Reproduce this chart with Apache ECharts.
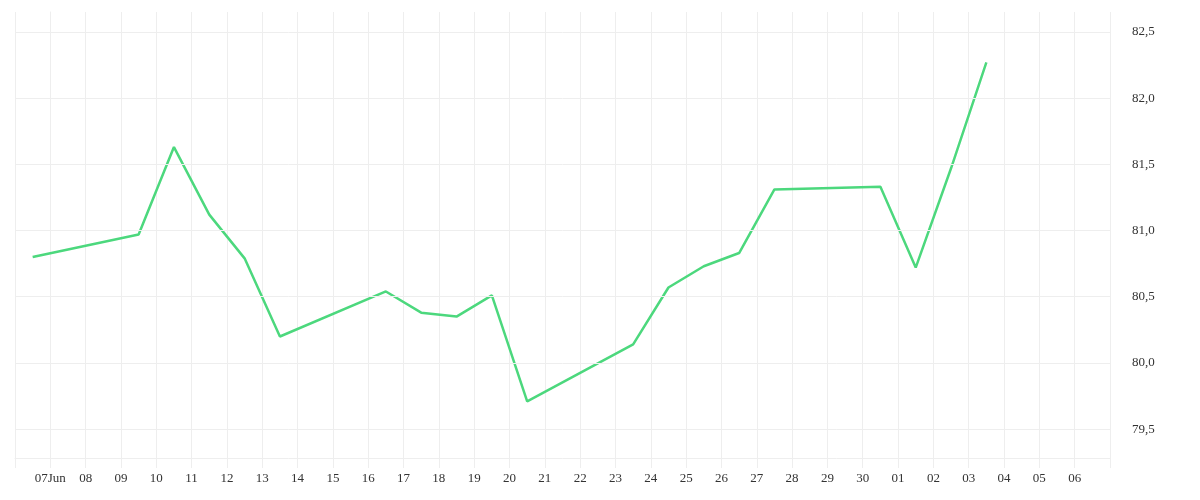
<!DOCTYPE html><html><head><meta charset="utf-8">
<script src="https://cdn.jsdelivr.net/npm/echarts@6/dist/echarts.min.js"></script>
<style>html,body{margin:0;padding:0;background:#fff}#c{width:1200px;height:500px}</style></head>
<body><div id="c"></div><script>
const dates = ["2024-06-06T12:00","2024-06-09T12:00","2024-06-10T12:00","2024-06-11T12:00","2024-06-12T12:00","2024-06-13T12:00","2024-06-16T12:00","2024-06-17T12:00","2024-06-18T12:00","2024-06-19T12:00","2024-06-20T12:00","2024-06-23T12:00","2024-06-24T12:00","2024-06-25T12:00","2024-06-26T12:00","2024-06-27T12:00","2024-06-30T12:00","2024-07-01T12:00","2024-07-02T12:00","2024-07-03T12:00"];
const values = [80.80,80.97,81.63,81.12,80.79,80.20,80.54,80.38,80.35,80.51,79.71,80.14,80.57,80.73,80.83,81.31,81.33,80.72,81.47,82.27];
const tickLabels = ["07Jun","08","09","10","11","12","13","14","15","16","17","18","19","20","21","22","23","24","25","26","27","28","29","30","01","02","03","04","05","06"];
const yTicks = [79.5,80.0,80.5,81.0,81.5,82.0,82.5];
const base = Date.UTC(2024,5,7);
const toDay = s => (Date.parse(s+"Z") - base) / 86400000;
const pts = dates.map((d,i)=>[toDay(d), values[i]]);
const font = "'Liberation Serif', serif";
const chart = echarts.init(document.getElementById('c'));
chart.setOption({
  animation:false,
  grid:[{left:15,right:90,top:12,bottom:37.7},{left:15,right:90,top:12,bottom:42}],
  xAxis:[
    {gridIndex:0,type:'value',min:-1,max:30,show:false,splitLine:{show:false}},
    {gridIndex:1,type:'value',min:-1,max:30,interval:1,
     axisLine:{lineStyle:{color:'#eeeeee'}},axisTick:{show:true,length:10,lineStyle:{color:'#eeeeee'}},
     splitLine:{show:true,lineStyle:{color:'#eeeeee'}},
     axisLabel:{fontFamily:font,fontSize:13,color:'#333',margin:14,
       formatter:v=>{const i=Math.round(v);return (i>=0&&i<tickLabels.length)?tickLabels[i]:'';}}}
  ],
  yAxis:[
    {gridIndex:0,type:'value',position:'right',min:79.25,max:82.65,interval:0.25,
     axisLine:{show:false},axisTick:{show:false},splitLine:{show:false},
     axisLabel:{fontFamily:font,fontSize:13,color:'#333',margin:22,
       formatter:v=>yTicks.some(t=>Math.abs(t-v)<1e-6)?v.toFixed(1).replace('.',','):''}},
    {gridIndex:1,type:'value',position:'right',min:0,max:1,
     axisLine:{show:true,lineStyle:{color:'#eeeeee'}},axisTick:{show:false},axisLabel:{show:false},splitLine:{show:false}}
  ],
  series:[{type:'line',xAxisIndex:0,yAxisIndex:0,data:pts,showSymbol:false,z:3,
    lineStyle:{color:'#4cd87d',width:2.5},itemStyle:{color:'#4cd87d'},
    markLine:{silent:true,symbol:'none',label:{show:false},animation:false,
      lineStyle:{color:'#eeeeee',type:'solid',width:1},
      data:yTicks.map(t=>({yAxis:t}))}}]
});
</script></body></html>
